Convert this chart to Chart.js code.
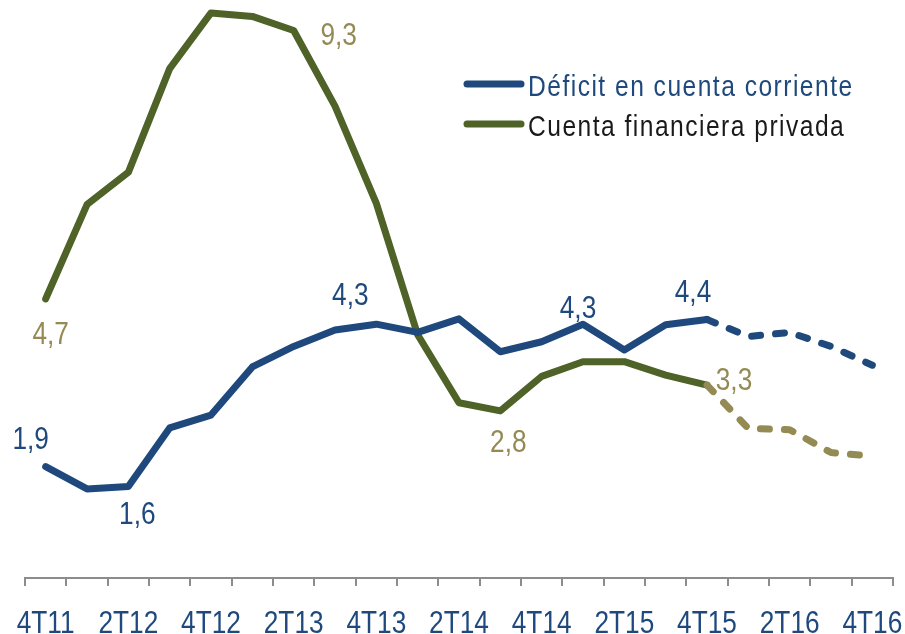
<!DOCTYPE html>
<html>
<head>
<meta charset="utf-8">
<script src="https://cdn.jsdelivr.net/npm/chart.js@4.4.1/dist/chart.umd.min.js"></script>
<style>
  html, body { margin: 0; padding: 0; background: #fff; }
  #wrap { width: 905px; height: 634px; position: relative; }
</style>
</head>
<body>
<div id="wrap"><canvas id="chart"></canvas></div>
<script>
const quarters = [
    "4T11", "1T12", "2T12", "3T12", "4T12", "1T13", "2T13", "3T13", "4T13",
    "1T14", "2T14", "3T14", "4T14", "1T15", "2T15", "3T15", "4T15",
    "1T16", "2T16", "3T16", "4T16",
]
const deficitCC = [
    1.9, 1.52, 1.56, 2.56, 2.78, 3.6, 3.95, 4.23, 4.33,
    4.19, 4.42, 3.86, 4.03, 4.33, 3.89, 4.32, 4.41,
    4.12, 4.19, 3.95, 3.63,
]
const cuentaFinanciera = [
    4.76, 6.37, 6.92, 8.69, 9.64, 9.58, 9.34, 8.05, 6.39,
    4.15, 2.99, 2.85, 3.44, 3.69, 3.69, 3.46, 3.29,
    2.55, 2.53, 2.14, 2.08,
]
const seriesNames = ["Déficit en cuenta corriente", "Cuenta financiera privada"]
const forecastFrom = 16 // 4T15, dashed after this

const BLUE = "#1F497D"
const OLIVE = "#4F6228"
const KHAKI = "#948A54"
const FONT = '"Liberation Sans", Arial, sans-serif'
const NARROW = 0.82 // no Arial Narrow here, squeeze Liberation Sans instead

// value labels: [dataset, index, text, dx, dy]
const valueLabels = [
    [0, 0, "1,9", -15, -29],
    [0, 2, "1,6", 9, 26],
    [0, 8, "4,3", -26, -31],
    [0, 13, "4,3", -5, -18],
    [0, 16, "4,4", -14, -29],
    [1, 0, "4,7", 5, 34],
    [1, 6, "9,3", 45, 3],
    [1, 11, "2,8", 8, 30],
    [1, 16, "3,3", 27, -7],
]

function narrowText(ctx, txt, x, y) {
    ctx.save()
    ctx.translate(x, y)
    ctx.scale(NARROW, 1)
    ctx.fillText(txt, 0, 0)
    ctx.restore()
}

const labelsPlugin = {
    id: "valueLabels",
    afterDatasetsDraw(chart) {
        const ctx = chart.ctx
        ctx.save()
        ctx.font = "32px " + FONT
        ctx.textAlign = "center"
        ctx.textBaseline = "alphabetic"
        valueLabels.forEach(([ds, i, txt, dx, dy]) => {
            const pt = chart.getDatasetMeta(ds).data[i]
            ctx.fillStyle = ds === 0 ? BLUE : KHAKI
            narrowText(ctx, txt, pt.x + dx, pt.y + dy + 11.5)
        })
        // x axis tick labels, every other quarter
        const xs = chart.scales.x
        ctx.fillStyle = BLUE
        quarters.forEach((q, i) => {
            if (i % 2 === 0) narrowText(ctx, q, xs.getPixelForTick(i), 633)
        })
        ctx.restore()
    },
}

const legendPlugin = {
    id: "insideLegend",
    afterDraw(chart) {
        const ctx = chart.ctx
        const rows = [
            { color: BLUE, text: BLUE, y: 85 },
            { color: OLIVE, text: "#1a1a1a", y: 125 },
        ]
        ctx.save()
        ctx.font = "30px " + FONT
        ctx.textBaseline = "alphabetic"
        ctx.textAlign = "left"
        if ("letterSpacing" in ctx) ctx.letterSpacing = "1.8px"
        rows.forEach((r, i) => {
            ctx.strokeStyle = r.color
            ctx.lineWidth = 7
            ctx.lineCap = "round"
            ctx.beginPath()
            ctx.moveTo(467, r.y - 1)
            ctx.lineTo(521, r.y - 1)
            ctx.stroke()
            ctx.fillStyle = r.text
            narrowText(ctx, seriesNames[i], 528, r.y + 10.7)
        })
        ctx.restore()
    },
}

const dashed = (c) => (c.p0DataIndex >= forecastFrom ? [9, 15] : undefined)

new Chart(document.getElementById("chart"), {
    type: "line",
    data: {
        labels: quarters,
        datasets: [
            {
                label: seriesNames[0],
                data: deficitCC,
                borderColor: BLUE,
                borderWidth: 7,
                borderCapStyle: "round",
                borderJoinStyle: "round",
                pointRadius: 0,
                tension: 0,
                segment: { borderDash: dashed },
            },
            {
                label: seriesNames[1],
                data: cuentaFinanciera,
                borderColor: OLIVE,
                borderWidth: 7,
                borderCapStyle: "round",
                borderJoinStyle: "round",
                pointRadius: 0,
                tension: 0,
                segment: {
                    borderDash: dashed,
                    borderColor: (c) => (c.p0DataIndex >= forecastFrom ? KHAKI : undefined),
                },
            },
        ],
    },
    options: {
        responsive: true,
        maintainAspectRatio: false,
        animation: false,
        layout: { padding: { left: 25, right: 12, top: 0, bottom: 0 } },
        plugins: {
            legend: false,
            title: false,
            tooltip: { enabled: false },
        },
        scales: {
            x: {
                offset: true,
                grid: {
                    offset: true,
                    drawOnChartArea: false,
                    drawTicks: true,
                    tickLength: 8,
                    color: "#8c8c8c",
                    lineWidth: 2,
                },
                border: { display: true, color: "#8c8c8c", width: 2 },
                ticks: { display: false, autoSkip: false },
                afterFit: (scale) => {
                    scale.height = 56
                },
            },
            y: {
                display: false,
                min: 0,
                max: 9.86,
            },
        },
    },
    plugins: [labelsPlugin, legendPlugin],
})
</script>
</body>
</html>
